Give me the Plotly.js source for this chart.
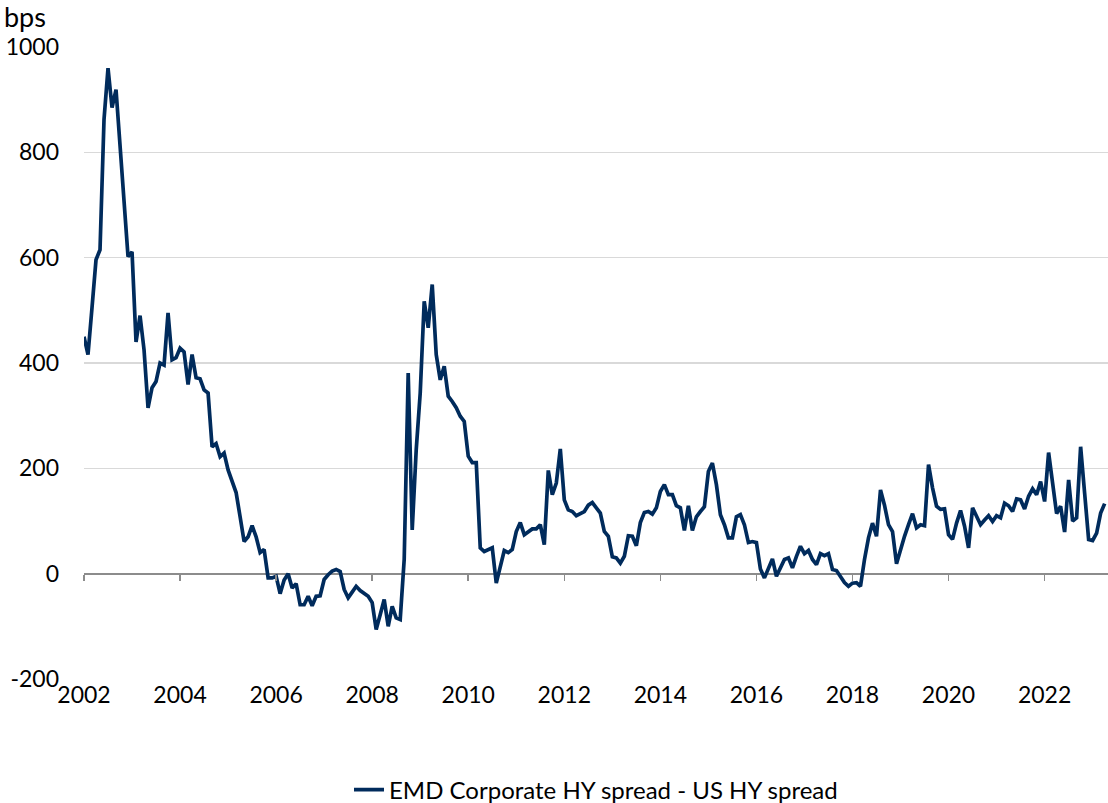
<!DOCTYPE html>
<html>
<head>
<meta charset="utf-8">
<script src="https://cdn.plot.ly/plotly-3.0.1.min.js"></script>
<style>html,body{margin:0;padding:0;background:#fff;}#chart{width:1108px;height:803px;}</style>
</head>
<body>
<div id="chart"></div>
<script>
// Monthly values (bps), one array per calendar year, starting January 2002
const y2002 = [450, 416, 505, 596, 615, 862, 960, 885, 919, 815, 715, 602];
const y2003 = [611, 440, 490, 425, 315, 353, 365, 400, 396, 495, 406, 410];
const y2004 = [428, 421, 359, 416, 372, 370, 349, 343, 241, 247, 222, 229];
const y2005 = [197, 175, 154, 108, 61, 70, 91, 70, 40, 46, -8, -8];
const y2006 = [-5, -38, -12, 0, -27, -19, -59, -59, -43, -61, -43, -42];
const y2007 = [-11, -2, 5, 8, 4, -30, -46, -35, -24, -32, -37, -43];
const y2008 = [-55, -106, -78, -49, -100, -62, -84, -87, 27, 381, 83, 235];
const y2009 = [343, 517, 467, 549, 416, 368, 394, 337, 327, 315, 299, 289];
const y2010 = [223, 211, 211, 49, 42, 46, 49, -18, 11, 44, 40, 46];
const y2011 = [80, 97, 74, 80, 85, 85, 93, 55, 196, 150, 172, 237];
const y2012 = [140, 121, 118, 110, 114, 118, 130, 135, 125, 115, 80, 71];
const y2013 = [32, 30, 20, 33, 72, 71, 53, 97, 116, 118, 113, 125];
const y2014 = [156, 169, 150, 150, 129, 125, 82, 129, 82, 108, 118, 127];
const y2015 = [194, 210, 169, 112, 93, 68, 68, 108, 112, 93, 59, 61];
const y2016 = [59, 9, -8, 8, 28, -5, 11, 27, 30, 11, 33, 52];
const y2017 = [38, 44, 27, 17, 38, 34, 38, 8, 6, -5, -17, -24];
const y2018 = [-18, -17, -24, 27, 68, 96, 71, 159, 130, 93, 80, 19];
const y2019 = [46, 71, 93, 114, 87, 93, 91, 207, 163, 128, 122, 123];
const y2020 = [74, 65, 96, 120, 90, 49, 125, 109, 93, 102, 110, 99];
const y2021 = [110, 106, 134, 129, 118, 142, 140, 123, 147, 161, 150, 175];
const y2022 = [137, 230, 175, 114, 128, 79, 178, 100, 106, 241, 153, 65];
const y2023 = [63, 77, 115, 133];

const startYear = 2002;
const tickYears = [2002, 2004, 2006, 2008, 2010, 2012, 2014, 2016, 2018, 2020, 2022];
const yTicks = [-200, 0, 200, 400, 600, 800, 1000];
const yTickLabels = ['-200', '0', '200', '400', '600', '800', '1000'];
const gridValues = [200, 400, 600, 800, 1000];
const seriesName = 'EMD Corporate HY spread - US HY spread';
const unitLabel = 'bps';

const spread = [].concat(y2002, y2003, y2004, y2005, y2006, y2007, y2008, y2009, y2010,
  y2011, y2012, y2013, y2014, y2015, y2016, y2017, y2018, y2019, y2020, y2021, y2022, y2023);
const months = spread.map((_, i) => startYear + i / 12);

const FONT = 'Lato, "Open Sans", sans-serif';
const navy = '#002b5c';

const traces = [
  {
    x: months, y: spread, type: 'scatter', mode: 'lines', name: seriesName,
    line: {color: navy, width: 3.7}, xaxis: 'x', yaxis: 'y'
  },
  {
    x: months, y: spread, type: 'scatter', mode: 'lines', showlegend: false,
    hoverinfo: 'skip', line: {color: 'rgba(0,0,0,0)', width: 0}, xaxis: 'x2', yaxis: 'y2'
  }
];

const layout = {
  width: 1108, height: 803,
  paper_bgcolor: '#ffffff', plot_bgcolor: '#ffffff',
  margin: {l: 84, r: 0, t: 47, b: 124, pad: 0},
  font: {family: FONT, size: 23, color: '#000'},
  title: {
    text: unitLabel, xref: 'container', yref: 'container',
    x: 4 / 1108, xanchor: 'left', y: 1 - 18 / 803, yanchor: 'middle',
    font: {family: FONT, size: 27, color: '#000'}
  },
  xaxis: {
    range: [2002, 2023.32], tickvals: tickYears, ticktext: tickYears.map(String),
    showgrid: false, zeroline: false, showline: false, ticks: '',
    tickfont: {family: FONT, size: 23, color: '#000'}, ticklabelstandoff: 0,
    fixedrange: true
  },
  xaxis2: {
    overlaying: 'x', matches: 'x', anchor: 'free', position: 200 / 1200, side: 'bottom',
    tickvals: tickYears, showticklabels: false, ticks: 'outside', ticklen: 6,
    tickcolor: '#8c8c8c', tickwidth: 1.5, showgrid: false, zeroline: false, showline: false
  },
  yaxis: {
    range: [-200, 1000], tickvals: gridValues, ticks: '', showticklabels: false,
    showgrid: true, gridcolor: '#d9d9d9', gridwidth: 1.4,
    zeroline: true, zerolinecolor: '#8c8c8c', zerolinewidth: 2,
    showline: false, fixedrange: true
  },
  yaxis2: {
    overlaying: 'y', matches: 'y', anchor: 'x', side: 'left',
    tickvals: yTicks, ticktext: yTickLabels, ticks: '',
    showgrid: false, zeroline: false, showline: false,
    tickfont: {family: FONT, size: 23, color: '#000'}, ticklabelstandoff: 24
  },
  showlegend: true,
  legend: {
    orientation: 'h', xref: 'container', yref: 'container',
    x: 596 / 1108, xanchor: 'center', y: 13 / 803, yanchor: 'middle',
    font: {family: FONT, size: 24, color: '#000'}, bgcolor: 'rgba(0,0,0,0)'
  }
};

Plotly.newPlot('chart', traces, layout, {staticPlot: true, displayModeBar: false});
</script>
</body>
</html>
